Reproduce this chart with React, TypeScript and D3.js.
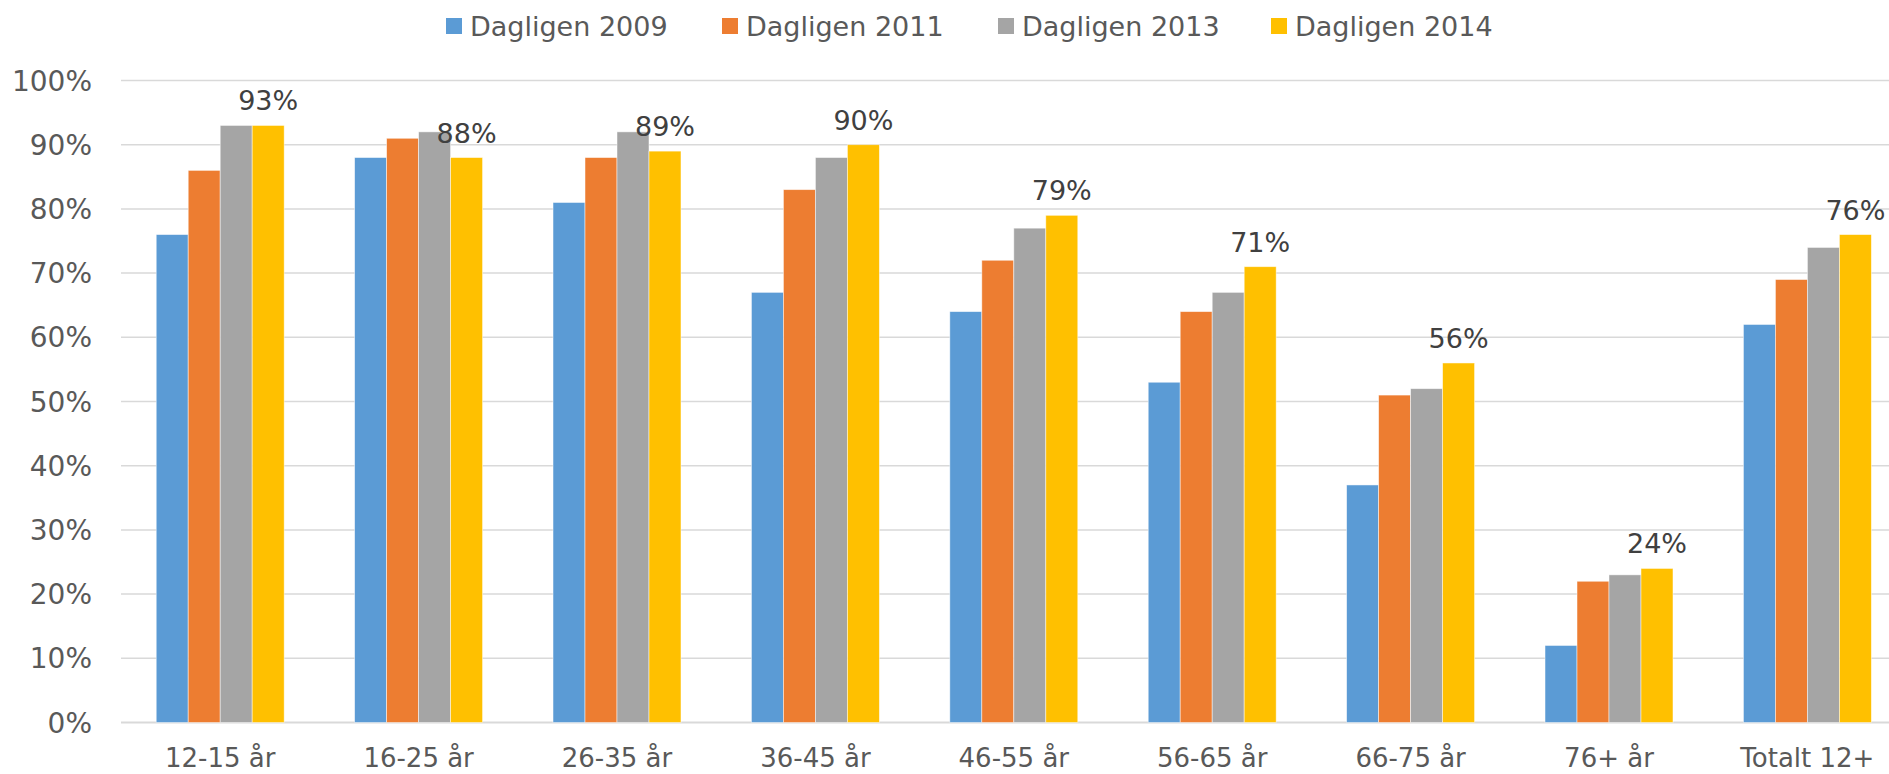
import { useEffect, useRef } from "react"
import * as d3 from "d3"

// categories and series
const categories = ["12-15 år", "16-25 år", "26-35 år", "36-45 år", "46-55 år", "56-65 år", "66-75 år", "76+ år", "Totalt 12+"]
const seriesNames = ["Dagligen 2009", "Dagligen 2011", "Dagligen 2013", "Dagligen 2014"]
const values2009 = [76, 88, 81, 67, 64, 53, 37, 12, 62]
const values2011 = [86, 91, 88, 83, 72, 64, 51, 22, 69]
const values2013 = [93, 92, 92, 88, 77, 67, 52, 23, 74]
const values2014 = [93, 88, 89, 90, 79, 71, 56, 24, 76]
const colors = ["#5b9bd5", "#ed7d31", "#a5a5a5", "#ffc000"]
const yTicks = [0, 10, 20, 30, 40, 50, 60, 70, 80, 90, 100]

const W = 1889
const H = 774

const App = () => {
  const svgRef = useRef<SVGSVGElement>(null)

  useEffect(() => {
    const svg = d3.select(svgRef.current)
    svg.selectAll("*").remove()

    const font = "'DejaVu Sans', Verdana, sans-serif"
    const allSeries = [values2009, values2011, values2013, values2014]

    const margin = { top: 80.5, left: 121, bottom: 722.5, right: 1906.6 }

    const x = d3.scaleBand<string>()
      .domain(categories)
      .range([margin.left, margin.right])
      .paddingInner(0.355)
      .paddingOuter(0.1775)

    const xs = d3.scaleBand<string>()
      .domain(seriesNames)
      .range([0, x.bandwidth()])

    const y = d3.scaleLinear().domain([0, 100]).range([margin.bottom, margin.top])

    // gridlines
    svg.append("g")
      .selectAll("line")
      .data(yTicks)
      .join("line")
      .attr("x1", margin.left)
      .attr("x2", margin.right)
      .attr("y1", d => y(d))
      .attr("y2", d => y(d))
      .attr("stroke", "#d9d9d9")
      .attr("stroke-width", d => (d === 0 ? 2 : 1.5))

    // y tick labels
    svg.append("g")
      .selectAll("text")
      .data(yTicks)
      .join("text")
      .attr("x", 92)
      .attr("y", d => y(d) + 10)
      .attr("text-anchor", "end")
      .attr("font-family", font)
      .attr("font-size", 28)
      .attr("fill", "#595959")
      .text(d => `${d}%`)

    // bars
    allSeries.forEach((vals, si) => {
      svg.append("g")
        .selectAll("rect")
        .data(vals)
        .join("rect")
        .attr("x", (d, i) => (x(categories[i]) ?? 0) + (xs(seriesNames[si]) ?? 0))
        .attr("y", d => y(d))
        .attr("width", xs.bandwidth())
        .attr("height", d => y(0) - y(d))
        .attr("fill", colors[si])
        .attr("stroke", "#ffffff")
        .attr("stroke-opacity", 0.6)
        .attr("stroke-width", 0.8)
    })

    // data labels on 2014 series
    svg.append("g")
      .selectAll("text")
      .data(values2014)
      .join("text")
      .attr("x", (d, i) => (x(categories[i]) ?? 0) + (xs(seriesNames[3]) ?? 0) + xs.bandwidth() / 2)
      .attr("y", d => y(d) - 15)
      .attr("text-anchor", "middle")
      .attr("font-family", font)
      .attr("font-size", 27)
      .attr("fill", "#404040")
      .text(d => `${d}%`)

    // category labels
    svg.append("g")
      .selectAll("text")
      .data(categories)
      .join("text")
      .attr("x", d => (x(d) ?? 0) + x.bandwidth() / 2)
      .attr("y", 767)
      .attr("text-anchor", "middle")
      .attr("font-family", font)
      .attr("font-size", 26)
      .attr("fill", "#595959")
      .text(d => d)

    // legend
    const legendX = [446, 722, 998, 1271]
    const legend = svg.append("g")
      .selectAll("g")
      .data(seriesNames)
      .join("g")
      .attr("transform", (d, i) => `translate(${legendX[i]}, 0)`)

    legend.append("rect")
      .attr("x", 0)
      .attr("y", 18)
      .attr("width", 16)
      .attr("height", 16)
      .attr("fill", (d, i) => colors[i])

    legend.append("text")
      .attr("x", 24)
      .attr("y", 35.5)
      .attr("font-family", font)
      .attr("font-size", 27)
      .attr("fill", "#595959")
      .text(d => d)
  }, [])

  return (
    <svg
      ref={svgRef}
      width={W}
      height={H}
      style={{ position: "absolute", left: 0, top: 0, background: "#fff" }}
    />
  )
}

export default App
